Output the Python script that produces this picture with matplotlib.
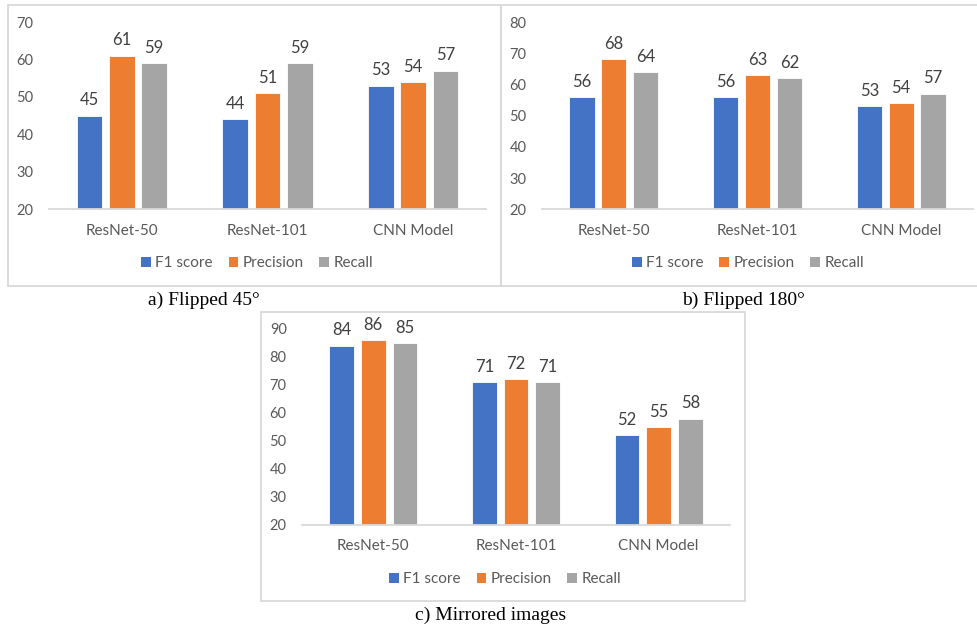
import matplotlib
matplotlib.use("Agg")
import matplotlib.pyplot as plt
from matplotlib.patches import Rectangle, Patch
import numpy as np

# ---- data ----
models = ["ResNet-50", "ResNet-101", "CNN Model"]
metrics = ["F1 score", "Precision", "Recall"]

flip45_f1 = [45, 44, 53]
flip45_precision = [61, 51, 54]
flip45_recall = [59, 59, 57]

flip180_f1 = [56, 56, 53]
flip180_precision = [68, 63, 54]
flip180_recall = [64, 62, 57]

mirror_f1 = [84, 71, 52]
mirror_precision = [86, 72, 55]
mirror_recall = [85, 71, 58]

captions = ["a) Flipped 45°", "b) Flipped 180°", "c) Mirrored images"]
yticks_a = [20, 30, 40, 50, 60, 70]
yticks_b = [20, 30, 40, 50, 60, 70, 80]
yticks_c = [20, 30, 40, 50, 60, 70, 80, 90]

# ---- style ----
colors = ["#4472C4", "#ED7D31", "#A5A5A5"]
frame_col = "#D9D9D9"
axis_text = "#595959"
label_text = "#404040"
sans = ["Lato", "DejaVu Sans"]
serif = ["Liberation Serif", "DejaVu Serif"]

W, H = 977, 631
fig = plt.figure(figsize=(W / 100, H / 100), dpi=100)


def fx(x):
    return x / W


def fy(y):
    return 1 - y / H


def frame(x0, y0, x1, y1):
    fig.patches.append(Rectangle((fx(x0), fy(y1)), fx(x1) - fx(x0), fy(y0) - fy(y1),
                                 transform=fig.transFigure, fill=False,
                                 edgecolor=frame_col, linewidth=1.3, zorder=0))


def panel(left, right, top, bottom, series, yticks, cat_y, leg_x, leg_y):
    ax = fig.add_axes([fx(left), fy(bottom), fx(right) - fx(left), fy(top) - fy(bottom)])
    x = np.arange(len(models))
    bw = 0.175
    step = 0.222
    for i, (vals, c) in enumerate(zip(series, colors)):
        pos = x + (i - 1) * step
        ax.bar(pos, vals, width=bw, bottom=0, color=c, edgecolor="white",
               linewidth=0.6, zorder=2)
        for p, v in zip(pos, vals):
            ax.annotate(str(v), (p, v), xytext=(0, 7.5), textcoords="offset points",
                        ha="center", va="baseline", fontsize=12,
                        color=label_text, family=sans)
    ax.set_xlim(-0.5, len(models) - 0.5)
    ax.set_ylim(yticks[0], yticks[-1])
    ax.set_yticks(yticks)
    ax.set_yticklabels([str(t) for t in yticks], family=sans, fontsize=10.5, color=axis_text)
    ax.set_xticks([])
    for sp in ["top", "right", "left"]:
        ax.spines[sp].set_visible(False)
    ax.spines["bottom"].set_color(frame_col)
    ax.spines["bottom"].set_linewidth(1.3)
    ax.tick_params(axis="y", length=0, pad=11)
    ax.patch.set_alpha(0)
    # category labels
    for xi, m in zip(x, models):
        fig.text(fx(left) + (xi + 0.5) / len(models) * (fx(right) - fx(left)), fy(cat_y), m,
                 ha="center", va="center", fontsize=11, color=axis_text, family=sans)
    handles = [Patch(facecolor=c, edgecolor="none", label=m) for c, m in zip(colors, metrics)]
    leg = fig.legend(handles=handles, loc="center", bbox_to_anchor=(fx(leg_x), fy(leg_y)),
                     ncol=3, frameon=False, handlelength=0.65, handleheight=0.65,
                     handletextpad=0.25, columnspacing=1.05, borderaxespad=0,
                     prop={"family": sans, "size": 11})
    for t in leg.get_texts():
        t.set_color(axis_text)
    return ax


# frames around each chart
frame(8, 5, 501, 286)
frame(501, 5, 985, 286)
frame(260.7, 312, 745, 601)

panel(49, 486, 22, 209.3, [flip45_f1, flip45_precision, flip45_recall], yticks_a, 231, 257, 263)
panel(542, 973, 22, 209.3, [flip180_f1, flip180_precision, flip180_recall], yticks_b, 231, 748, 263)
panel(302, 730, 329, 525, [mirror_f1, mirror_precision, mirror_recall], yticks_c, 545.7, 505, 579)

# captions
fig.text(fx(204), fy(300), captions[0], ha="center", va="center", fontsize=14, family=serif, color="black")
fig.text(fx(743), fy(300), captions[1], ha="center", va="center", fontsize=14, family=serif, color="black")
fig.text(fx(491), fy(615), captions[2], ha="center", va="center", fontsize=14, family=serif, color="black")

fig.savefig("out.png", dpi=100)
